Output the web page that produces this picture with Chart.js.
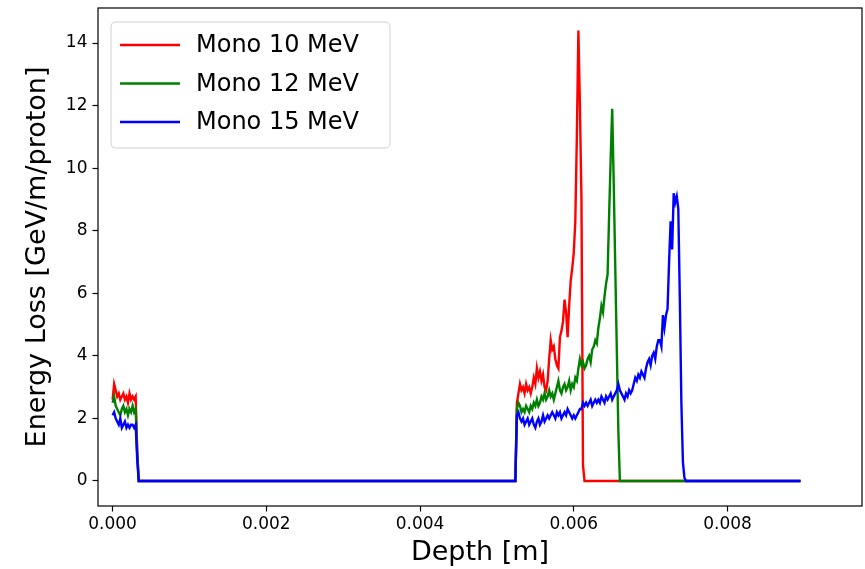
<!DOCTYPE html>
<html>
<head>
<meta charset="utf-8">
<script src="https://cdn.jsdelivr.net/npm/chart.js@4.4.1/dist/chart.umd.min.js"></script>
<style>
  html, body { margin: 0; padding: 0; background: #ffffff; }
  canvas { display: block; }
</style>
</head>
<body>
<canvas id="c" width="865" height="569"></canvas>
<script>
// ---- data ----
const seriesLabels = ['Mono 10 MeV', 'Mono 12 MeV', 'Mono 15 MeV'];
const seriesColors = ['#ff0000', '#008000', '#0000ff'];

// depth [m] of the entrance layer
const depthNear = [0, 0.00002, 0.00004, 0.00006, 0.00008, 0.0001, 0.00012, 0.00014, 0.00016,
  0.00018, 0.0002, 0.00022, 0.00024, 0.00026, 0.00028, 0.0003, 0.00032, 0.00034];
const depthGap = [0.00524];
// depth [m] of the Bragg-peak region
const depthPeak = [
  0.00526,0.00528,0.0053,0.00532,0.00534,0.00536,0.00538,0.0054,0.00542,0.00544,
  0.00546,0.00548,0.0055,0.00552,0.00554,0.00556,0.00558,0.0056,0.00562,0.00564,
  0.00566,0.00568,0.0057,0.00572,0.00574,0.00576,0.00578,0.0058,0.00582,0.00584,
  0.00586,0.00588,0.0059,0.00592,0.00594,0.00596,0.00598,0.006,0.00602,0.00604,
  0.00606,0.00608,0.0061,0.00612,0.00614,0.00616,0.00618,0.0062,0.00622,0.00624,
  0.00626,0.00628,0.0063,0.00632,0.00634,0.00636,0.00638,0.0064,0.00642,0.00644,
  0.00646,0.00648,0.0065,0.00652,0.00654,0.00656,0.00658,0.0066,0.00662,0.00664,
  0.00666,0.00668,0.0067,0.00672,0.00674,0.00676,0.00678,0.0068,0.00682,0.00684,
  0.00686,0.00688,0.0069,0.00692,0.00694,0.00696,0.00698,0.007,0.00702,0.00704,
  0.00706,0.00708,0.0071,0.00712,0.00714,0.00716,0.00718,0.0072,0.00722,0.00724,
  0.00726,0.00728,0.0073,0.00732,0.00734,0.00736,0.00738,0.0074,0.00742,0.00744,
  0.00746,0.00748,0.0075];
const depthEnd = [0.00895];

// energy loss [GeV/m/proton]
const mono10Near = [2.6, 3.1, 2.9, 2.7, 2.8, 2.6, 2.7, 2.8, 2.6, 2.7, 2.5, 2.8, 2.6, 2.7, 2.6, 2.7, 1.0, 0];
const mono12Near = [2.5, 2.7, 2.4, 2.3, 2.2, 2.1, 2.3, 2.4, 2.2, 2.3, 2.1, 2.3, 2.2, 2.4, 2.2, 2.3, 0.9, 0];
const mono15Near = [2.1, 2.2, 2.0, 1.9, 1.8, 2.0, 1.7, 1.8, 1.9, 1.7, 1.8, 1.7, 1.8, 1.8, 1.7, 1.8, 0.7, 0];

const mono10Peak = [
  2.5, 2.8, 3.1, 2.9, 3.0, 2.8, 3.1, 2.9, 3.0, 2.8,
  3.0, 3.3, 3.1, 3.6, 3.3, 3.5, 3.2, 3.4, 3.0, 2.9,
  3.2, 3.9, 4.5, 4.2, 4.3, 3.9, 3.7, 3.6, 4.6, 4.8,
  5.1, 5.8, 5.4, 4.6, 5.6, 6.4, 6.8, 7.3, 8.3, 11.0,
  14.4, 12.0, 9.0, 0.5, 0, 0, 0, 0, 0, 0,
  0, 0, 0, 0, 0, 0, 0, 0, 0, 0,
  0, 0, 0, 0, 0, 0, 0, 0, 0, 0,
  0, 0, 0, 0, 0, 0, 0, 0, 0, 0,
  0, 0, 0, 0, 0, 0, 0, 0, 0, 0,
  0, 0, 0, 0, 0, 0, 0, 0, 0, 0,
  0, 0, 0, 0, 0, 0, 0, 0, 0, 0,
  0, 0, 0];
const mono12Peak = [
  2.3, 2.5, 2.4, 2.2, 2.3, 2.2, 2.4, 2.3, 2.2, 2.4,
  2.3, 2.5, 2.4, 2.6, 2.4, 2.5, 2.7, 2.6, 2.8, 2.6,
  2.7, 2.9, 2.7, 2.8, 2.6, 2.8, 3.0, 3.2, 2.9, 2.8,
  3.0, 3.1, 2.9, 3.0, 3.2, 2.9, 3.1, 3.0, 3.3, 3.2,
  3.6, 3.9, 3.7, 3.8, 3.6, 3.7, 3.9, 4.0, 3.8, 4.2,
  4.3, 4.5, 4.4, 4.9, 5.2, 5.6, 5.4, 5.9, 6.3, 6.6,
  8.5, 10.3, 11.9, 9.5, 6.8, 4.2, 1.6, 0, 0, 0,
  0, 0, 0, 0, 0, 0, 0, 0, 0, 0,
  0, 0, 0, 0, 0, 0, 0, 0, 0, 0,
  0, 0, 0, 0, 0, 0, 0, 0, 0, 0,
  0, 0, 0, 0, 0, 0, 0, 0, 0, 0,
  0, 0, 0];
const mono15Peak = [
  2.1, 2.2, 2.0, 1.9, 2.0, 1.8, 1.9, 2.0, 1.8, 1.9,
  2.0, 1.8, 1.7, 1.9, 2.0, 1.8, 1.9, 2.1, 1.9, 2.0,
  2.1, 2.0, 2.1, 2.2, 2.1, 2.0, 2.2, 2.1, 2.2, 2.0,
  2.1, 2.2, 2.1, 2.3, 2.2, 2.1, 2.0, 2.1, 2.0, 2.1,
  2.2, 2.3, 2.3, 2.5, 2.4, 2.5, 2.4, 2.5, 2.6, 2.4,
  2.5, 2.6, 2.5, 2.6, 2.5, 2.7, 2.6, 2.5, 2.7, 2.6,
  2.7, 2.8, 2.6, 2.7, 2.8, 2.9, 3.1, 2.9, 2.8, 2.7,
  2.6, 2.8, 2.7, 2.9, 2.8, 2.9, 3.1, 3.3, 3.2, 3.4,
  3.3, 3.5, 3.4, 3.3, 3.6, 3.8, 3.9, 3.7, 4.0, 4.1,
  3.9, 4.3, 4.5, 4.5, 4.3, 5.3, 4.9, 5.3, 5.5, 7.0,
  8.3, 7.4, 9.2, 8.9, 9.1, 8.7, 5.8, 2.5, 0.6, 0.1,
  0, 0, 0];

const xTickValues = [0, 0.002, 0.004, 0.006, 0.008];
const yTickValues = [0, 2, 4, 6, 8, 10, 12, 14];

// ---- build datasets ----
const depthAll = [...depthNear, ...depthGap, ...depthPeak, ...depthEnd];
const seriesValues = [
  [...mono10Near, 0, ...mono10Peak, 0],
  [...mono12Near, 0, ...mono12Peak, 0],
  [...mono15Near, 0, ...mono15Peak, 0]
];
const FONT = "'DejaVu Sans', sans-serif";

const datasets = seriesLabels.map((label, k) => ({
  label,
  data: depthAll.map((d, i) => ({ x: d, y: seriesValues[k][i] })),
  borderColor: seriesColors[k],
  backgroundColor: seriesColors[k],
  borderWidth: 2.4,
  pointRadius: 0,
  tension: 0,
  fill: false,
  order: 3 - k   // blue drawn on top, as in the reference
}));

const frameAndLegend = {
  id: 'frameAndLegend',
  afterDraw(chart) {
    const { ctx, chartArea: a } = chart;
    ctx.save();
    // frame
    ctx.strokeStyle = '#000';
    ctx.lineWidth = 1.2;
    ctx.strokeRect(a.left, a.top, a.right - a.left, a.bottom - a.top);
    // legend box
    const bx = a.left + 13, by = a.top + 14, bw = 279, bh = 126, r = 5;
    ctx.beginPath();
    ctx.moveTo(bx + r, by);
    ctx.lineTo(bx + bw - r, by);
    ctx.quadraticCurveTo(bx + bw, by, bx + bw, by + r);
    ctx.lineTo(bx + bw, by + bh - r);
    ctx.quadraticCurveTo(bx + bw, by + bh, bx + bw - r, by + bh);
    ctx.lineTo(bx + r, by + bh);
    ctx.quadraticCurveTo(bx, by + bh, bx, by + bh - r);
    ctx.lineTo(bx, by + r);
    ctx.quadraticCurveTo(bx, by, bx + r, by);
    ctx.closePath();
    ctx.fillStyle = 'rgba(255,255,255,0.8)';
    ctx.fill();
    ctx.strokeStyle = '#d0d0d0';
    ctx.lineWidth = 1;
    ctx.stroke();
    // entries
    ctx.font = '24px ' + FONT;
    ctx.textBaseline = 'middle';
    ctx.textAlign = 'left';
    chart.data.datasets.forEach((ds, k) => {
      const y = by + 23 + k * 38.5;
      ctx.strokeStyle = ds.borderColor;
      ctx.lineWidth = 2.4;
      ctx.beginPath();
      ctx.moveTo(bx + 9, y);
      ctx.lineTo(bx + 69, y);
      ctx.stroke();
      ctx.fillStyle = '#000';
      ctx.fillText(ds.label, bx + 85, y + 1);
    });
    ctx.restore();
  }
};

new Chart(document.getElementById('c'), {
  type: 'line',
  data: { datasets },
  options: {
    responsive: false,
    animation: false,
    events: [],
    layout: { padding: { top: 8, right: 3, left: 0, bottom: 0 } },
    plugins: { legend: { display: false }, tooltip: { enabled: false } },
    scales: {
      x: {
        type: 'linear',
        min: -0.00019,
        max: 0.00975,
        afterBuildTicks: (s) => { s.ticks = xTickValues.map(v => ({ value: v })); },
        afterFit: (s) => { s.height = 63; s.paddingLeft = 0; s.paddingRight = 0; },
        ticks: {
          callback: (v) => Number(v).toFixed(3),
          font: { family: FONT, size: 17 },
          color: '#000',
          padding: 3,
          maxRotation: 0,
          autoSkip: false
        },
        grid: { display: true, drawOnChartArea: false, drawTicks: true, tickLength: 5.5, tickWidth: 1.2, tickColor: '#000', color: '#000' },
        border: { display: false },
        title: { display: true, text: 'Depth [m]', font: { family: FONT, size: 27 }, color: '#000', padding: { top: 0, bottom: 0 } }
      },
      y: {
        type: 'linear',
        min: -0.8,
        max: 15.12,
        afterBuildTicks: (s) => { s.ticks = yTickValues.map(v => ({ value: v })); },
        afterFit: (s) => { s.width = 98; s.paddingTop = 0; s.paddingBottom = 0; },
        ticks: {
          callback: (v) => String(v),
          font: { family: FONT, size: 17 },
          color: '#000',
          padding: 5
        },
        grid: { display: true, drawOnChartArea: false, drawTicks: true, tickLength: 5.5, tickWidth: 1.2, tickColor: '#000', color: '#000' },
        border: { display: false },
        title: { display: true, text: 'Energy Loss [GeV/m/proton]', font: { family: FONT, size: 27 }, color: '#000', padding: { top: 22, bottom: 0 } }
      }
    }
  },
  plugins: [frameAndLegend]
});
</script>
</body>
</html>
